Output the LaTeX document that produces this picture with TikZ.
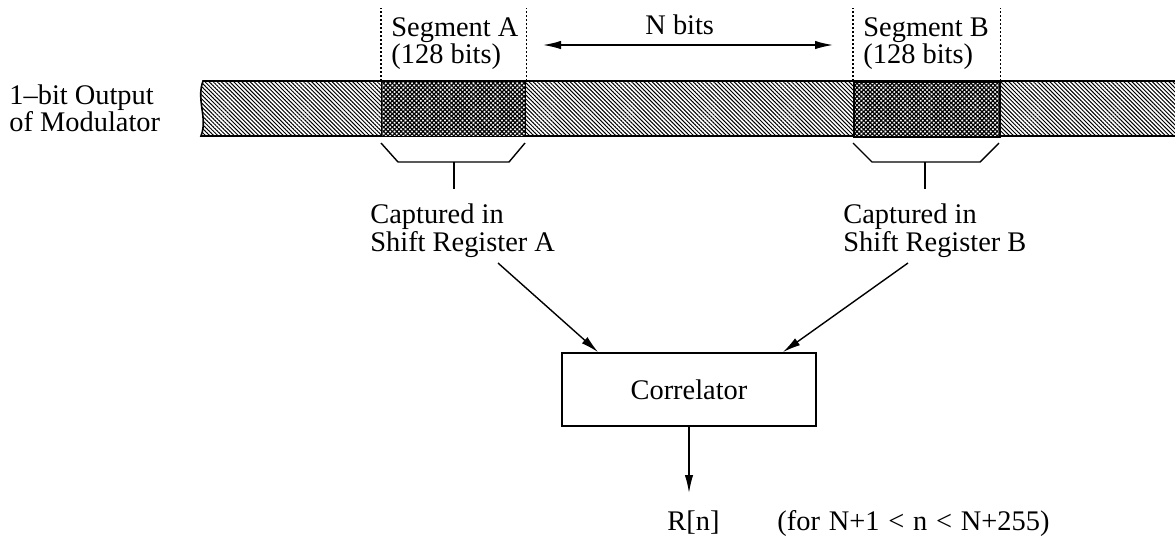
\documentclass[tikz,border=0pt]{standalone}
\usepackage{fontspec}
\setmainfont{Liberation Serif}
\usetikzlibrary{arrows.meta,patterns.meta,calc}
\begin{document}
\begin{tikzpicture}[x=0.5pt,y=-0.5pt,
  font=\fontsize{14.2}{17}\selectfont,
  lbl/.style={anchor=base west, inner sep=0pt},
  arr/.style={-{Latex[length=9pt,width=4.2pt]}, line width=0.7pt},
  dotln/.style={line width=0.6pt, dash pattern=on 0.8pt off 1.2pt},
  seg/.style={draw, line width=0.8pt, inner sep=0pt, anchor=north west,
    minimum height=27.5pt, preaction={fill=white},
    pattern={Hatch[angle=45,distance=1.55pt,line width=0.6pt]}},
  brk/.style={line width=0.7pt}]
\useasboundingbox (0,0) rectangle (1175,537);

% strip
\path[pattern={Lines[angle=-45,distance=1.45pt,line width=0.5pt]}]
  (203,81) .. controls (196,100) and (208,118) .. (201,136) -- (1175,136) -- (1175,81) -- cycle;
\draw[line width=0.8pt] (1175,81) -- (203,81) .. controls (196,100) and (208,118) .. (201,136) -- (1175,136);

% segments
\node[seg, minimum width=72pt] (segA) at (381,81) {};
\node[seg, minimum width=73pt] (segB) at (853,81) {};

% dotted guides
\draw[dotln] (segA.north west) -- ++(0,-73);
\draw[dotln] (segA.north east) -- ++(0,-73);
\draw[dotln] (segB.north west) -- ++(0,-73);
\draw[dotln] (segB.north east) -- ++(0,-73);

% labels top
\node[lbl] (mod1) at (9,104) {1--bit Output};
\node[lbl] (mod2) at (9,131) {of Modulator};
\node[lbl] (segAt1) at (391,36) {Segment A};
\node[lbl] (segAt2) at (391,63) {(128 bits)};
\node[lbl] (segBt1) at (863,36) {Segment B};
\node[lbl] (segBt2) at (863,63) {(128 bits)};
\node[lbl] (nbits) at (645,34) {N bits};

% N bits arrow
\coordinate (nL) at (543,45);
\coordinate (nR) at (833,45);
\draw[{Latex[length=9pt,width=4.2pt]}-{Latex[length=9pt,width=4.2pt]}, line width=0.7pt] (nL) -- (nR);

% brackets
\draw[brk] (381,143) -- (398,162) -- (509,162) -- (525,143);
\draw[brk] (454,162) -- (454,189);
\draw[brk] (853,143) -- (872,162) -- (980,162) -- (999,143);
\draw[brk] (925,162) -- (925,189);

% captured labels
\node[lbl] (capA1) at (370,223) {Captured in};
\node[lbl] (capA2) at (370,251) {Shift Register A};
\node[lbl] (capB1) at (843,223) {Captured in};
\node[lbl] (capB2) at (843,251) {Shift Register B};

% correlator
\node[draw, line width=0.8pt, minimum width=127pt, minimum height=36.5pt, inner sep=0pt] (corr) at (689,389.5) {Correlator};

\coordinate (tailA) at (498,263);
\coordinate (tailB) at (908,263);
\draw[arr] (tailA) -- ($(corr.north west)+(37,0)$);
\draw[arr] (tailB) -- ($(corr.north east)+(-34,0)$);

\coordinate (rtip) at (689,493);
\draw[arr] (corr.south) -- (rtip);

\node[lbl] (rn) at (667,530) {R[n]};
\node[lbl] (cond) at (777,530) {\spaceskip=4.4pt (for N+1 < n < N+255)};
\end{tikzpicture}
\end{document}
